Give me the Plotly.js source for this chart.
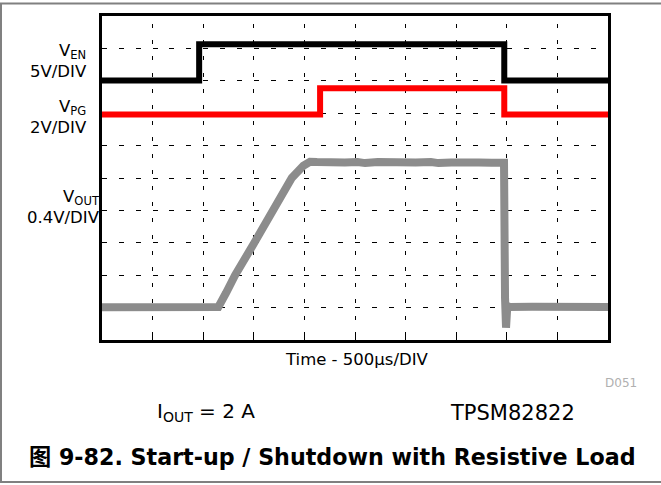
<!DOCTYPE html>
<html>
<head>
<meta charset="utf-8">
<script src="https://cdn.plot.ly/plotly-3.0.1.min.js"></script>
<style>html,body{margin:0;padding:0;background:#fff;}#chart{width:661px;height:485px;}</style>
</head>
<body>
<div id="chart"></div>
<script>
// Time axis in divisions (500 µs/DIV), vertical in screen divisions
var tEn  = [0, 1.92, 7.95, 10];
var vEn  = [8.01, 9.13, 8.01, 8.01];

var tPg  = [0, 4.31, 7.95, 10];
var vPg  = [6.96, 7.77, 6.96, 6.96];

var tOut = [0, 0.4, 0.9, 1.3, 1.8, 2.30, 2.45, 2.63, 3.01, 3.37, 3.75, 3.98, 4.11,
            4.25, 4.45, 4.55, 4.8, 5.05, 5.2, 5.45, 5.6, 5.85, 6.05, 6.2, 6.5, 6.65, 6.9,
            7.05, 7.3, 7.45, 7.7, 7.945, 7.965, 7.985, 8.01, 8.05, 8.5, 9.0, 9.5, 10];
var vOut = [1.01, 1.02, 1.0, 1.02, 1.01, 1.02, 1.45, 2.0, 3.0, 4.0, 5.0, 5.38, 5.5,
            5.49, 5.47, 5.50, 5.48, 5.49, 5.46, 5.49, 5.48, 5.50, 5.47, 5.48, 5.49,
            5.46, 5.48, 5.49, 5.46, 5.48, 5.47, 5.47, 1.3, 0.38, 1.05, 1.02, 1.03,
            1.02, 1.03, 1.02];

var W = 661, H = 485, L = 102, R = 53, T = 16, B = 145;
var pw = W - L - R, ph = H - T - B;
function X(px) { return (px - L) / pw; }
function Y(py) { return (H - B - py) / ph; }

var fontLbl = "DejaVu Sans, Liberation Sans, Arial, sans-serif";

function ann(text, px, py, anchor, size, opts) {
  var a = {
    text: text, xref: "paper", yref: "paper", x: X(px), y: Y(py),
    xanchor: anchor, yanchor: "middle", align: anchor, showarrow: false,
    font: {family: fontLbl, size: size, color: "#000"}
  };
  if (opts) { for (var k in opts) { a[k] = opts[k]; } }
  return a;
}

var data = [
  {x: tOut, y: vOut, mode: "lines", line: {color: "rgb(140,140,140)", width: 8}, hoverinfo: "skip"},
  {x: tPg, y: vPg, mode: "lines", line: {color: "#ff0000", width: 6, shape: "hv"}, hoverinfo: "skip"},
  {x: tEn, y: vEn, mode: "lines", line: {color: "#000000", width: 6, shape: "hv"}, hoverinfo: "skip"}
];

var layout = {
  width: W, height: H,
  margin: {l: L, r: R, t: T, b: B, pad: 0},
  paper_bgcolor: "#fff", plot_bgcolor: "#fff",
  showlegend: false,
  xaxis: {
    range: [0, 10], dtick: 1, tick0: 0, showticklabels: false,
    showgrid: true, gridcolor: "#000", gridwidth: 1, griddash: "0px,8px,4px,4.2px",
    zeroline: false, showline: true, linecolor: "#000", linewidth: 3, mirror: true,
    ticks: "inside", ticklen: 5, tickwidth: 1, tickcolor: "#000", fixedrange: true
  },
  yaxis: {
    range: [0, 10], dtick: 1, tick0: 0, showticklabels: false,
    showgrid: true, gridcolor: "#000", gridwidth: 1, griddash: "5px,11.87px",
    zeroline: false, showline: true, linecolor: "#000", linewidth: 3, mirror: true,
    ticks: "", fixedrange: true
  },
  shapes: [
    {type: "line", xref: "paper", yref: "paper", x0: X(0), x1: X(661), y0: Y(3.5), y1: Y(3.5), line: {color: "#808080", width: 2}},
    {type: "line", xref: "paper", yref: "paper", x0: X(1), x1: X(1), y0: Y(3.5), y1: Y(482), line: {color: "#808080", width: 2}},
    {type: "line", xref: "paper", yref: "paper", x0: X(0), x1: X(661), y0: Y(482), y1: Y(482), line: {color: "#808080", width: 2}}
  ],
  annotations: [
    ann("V<sub>EN</sub><br>5V/DIV", 89, 61, "right", 16.5),
    ann("V<sub>PG</sub><br>2V/DIV", 89, 117, "right", 16.5),
    ann("V<sub>OUT</sub><br>0.4V/DIV", 102, 207, "right", 16.5),
    ann("Time - 500µs/DIV", 283, 359, "left", 16.5),
    ann("D051", 603, 383, "left", 12, {font: {family: fontLbl, size: 12, color: "#b0b0b0"}}),
    ann("I<sub>OUT</sub> = 2 A", 155, 412, "left", 20),
    ann("TPSM82822", 448, 413, "left", 21),
    ann("<b>图 9-82. Start-up / Shutdown with Resistive Load</b>", 27, 457, "left", 22.2,
        {font: {family: "DejaVu Sans, Noto Sans CJK SC, sans-serif", size: 22.2, color: "#000"}})
  ]
};

Plotly.newPlot("chart", data, layout, {displayModeBar: false, staticPlot: true});
</script>
</body>
</html>
